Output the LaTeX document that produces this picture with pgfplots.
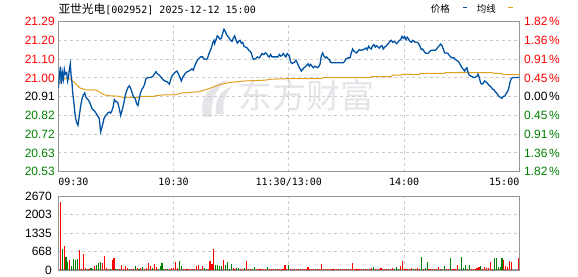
\documentclass[border=0pt]{standalone}
\usepackage{pgfplots}
\pgfplotsset{compat=1.18}
\usepackage{fontspec}
\setmainfont{Liberation Sans}
\newfontfamily\cjk{Noto Sans CJK SC}
\newfontfamily\mono{DejaVu Sans Mono}
\definecolor{pblue}{RGB}{0,82,164}
\definecolor{porange}{RGB}{226,160,32}
\definecolor{vred}{RGB}{255,0,0}
\definecolor{vgreen}{RGB}{0,128,0}
\definecolor{gridc}{RGB}{204,204,204}
\definecolor{framec}{RGB}{150,150,150}
\definecolor{wm}{RGB}{228,228,233}
\begin{document}
\begin{tikzpicture}
\useasboundingbox (0pt,0pt) rectangle (578pt,276pt);
\begin{scope}[x=1pt,y=1pt]
% watermark
\fill[wm] (204,159) .. controls (198,175) and (208,192) .. (228,196) .. controls (214,186) and (210,172) .. (212,159) -- cycle;
\fill[wm] (216,162) .. controls (214,175) and (220,186) .. (232,190) .. controls (224,180) and (222,172) .. (224,162) -- cycle;
\node[anchor=west, inner sep=0pt, text=wm] at (238,181) {\cjk\fontsize{34}{34}\selectfont 东方财富};
% title and legend
\node[anchor=west, inner sep=0pt] at (58.3,267) {\cjk\fontsize{11.7}{12}\selectfont 亚世光电\mono\fontsize{10}{12}\selectfont[002952] 2025-12-12 15:00};
\node[anchor=west, inner sep=0pt] at (430.7,267.5) {\cjk\fontsize{9.5}{10}\selectfont 价格};
\fill[pblue] (462.7,267.5) rectangle (467.3,269.3);
\node[anchor=west, inner sep=0pt] at (476.7,267.5) {\cjk\fontsize{9.5}{10}\selectfont 均线};
\fill[porange] (508.3,267.5) rectangle (512.7,269.3);
\end{scope}

% price axis
\begin{axis}[at={(58.3pt,104.3pt)}, anchor=south west, scale only axis,
  width=461pt, height=150pt,
  xmin=0, xmax=240, ymin=20.5294, ymax=21.2906,
  axis line style={framec, line width=1.2pt},
  major tick length=0pt,
  xtick={0,60,120,180,240},
  xticklabels={\makebox[0pt][l]{09:30},10:30,11:30/13:00,14:00,\makebox[0pt][r]{15:00}},
  xticklabel style={font=\mono\fontsize{10}{10}\selectfont, inner sep=0pt, yshift=-6.3pt},
  ytick={20.5294,20.6246,20.7197,20.8149,20.9100,21.0052,21.1003,21.1955,21.2906},
  yticklabels={\textcolor{vgreen}{20.53},\textcolor{vgreen}{20.63},\textcolor{vgreen}{20.72},\textcolor{vgreen}{20.82},\textcolor{black}{20.91},\textcolor{vred}{21.00},\textcolor{vred}{21.10},\textcolor{vred}{21.20},\textcolor{vred}{21.29}},
  yticklabel style={font=\fontsize{12}{12}\selectfont, inner sep=0pt, xshift=-3.3pt},
  grid=major, grid style={gridc, dash pattern=on 3pt off 3pt, line width=0.9pt},
]
\addplot[porange, line width=1pt] coordinates {
(0,20.974) (1.41,20.990) (2.27,20.999) (5.74,21.002) (7.48,20.990) (9.21,20.974) (10.95,20.957) (11.82,20.952) (14.42,20.945) (18.76,20.945) (20.49,20.940) (22.23,20.929) (23.96,20.919) (26.56,20.915) (31.77,20.912) (33.50,20.907) (42.18,20.907) (43.91,20.912) (49.99,20.912) (50.85,20.915) (54.32,20.919) (60.92,20.920)
(64.40,20.929) (73.07,20.935) (76.54,20.945) (80.01,20.957) (83.48,20.969) (88.69,20.982) (97.36,20.990) (107.77,20.994) (111.24,20.999) (121.3,21.002)
(136.92,21.002) (137.96,21.007) (162.08,21.007) (162.95,21.012) (173.36,21.012) (174.05,21.019) (178.56,21.019) (178.91,21.024)
(187.94,21.022) (188.46,21.029) (201.13,21.029) (201.47,21.032) (226.11,21.032) (226.81,21.029) (230.97,21.027) (231.66,21.022) (240,21.022)
};
\addplot[pblue, line width=1.3pt] coordinates {
(0,20.952) (1.06,21.062) (1.58,20.974) (2.10,21.032) (2.62,20.999) (3.14,21.049) (3.66,21.024) (4.35,21.032) (4.88,20.990) (5.40,21.015) (5.74,21.049) (6.26,21.077) (6.61,21.024) (7.13,20.982) (7.48,20.932) (8.17,20.874) (8.87,20.807) (9.56,20.779) (10.25,20.765) (10.95,20.815) (11.64,20.862) (12.34,20.899) (13.03,20.919) (13.72,20.929) (14.42,20.907) (15.46,20.895) (16.15,20.885) (16.85,20.869) (17.54,20.849) (18.24,20.844) (19.28,20.832) (20.32,20.815) (21.36,20.799) (21.70,20.765) (22.05,20.732) (22.57,20.749) (23.09,20.769) (23.79,20.799) (24.48,20.812) (25.18,20.819) (25.87,20.829) (26.56,20.832) (27.26,20.827) (27.95,20.840) (28.65,20.862) (29.17,20.895) (30.03,20.885) (30.90,20.882) (31.77,20.849) (32.46,20.815) (32.98,20.832) (33.50,20.852) (34.20,20.882) (34.89,20.919) (35.59,20.940) (36.28,20.957) (36.97,20.965) (37.67,20.952) (38.36,20.932) (39.06,20.912) (40.10,20.899) (40.79,20.874) (41.48,20.865) (42.18,20.902) (42.87,20.932) (43.57,20.949) (44.26,20.957) (44.95,20.974) (45.65,21.002) (46.69,21.007) (47.73,21.007) (49.12,21.012) (50.16,21.027) (50.85,21.037) (51.55,21.027) (52.59,21.019) (53.63,21.007) (54.67,20.995) (55.71,20.989) (56.75,20.985) (57.79,20.974) (58.31,20.990) (58.83,21.007)
(59.19,21.015) (60.58,21.032) (61.79,21.040) (62.66,21.024) (63.53,21.002) (64.05,20.990) (64.74,21.007) (65.78,21.024) (66.82,21.035) (67.87,21.040) (68.73,21.045) (69.60,21.052) (70.29,21.045) (70.99,21.065) (71.68,21.082) (72.38,21.095) (73.07,21.102) (74.11,21.112) (75.15,21.112) (75.85,21.102) (76.89,21.099) (77.58,21.102) (78.28,21.124) (78.97,21.141) (79.66,21.157) (80.36,21.182) (81.05,21.196) (81.40,21.179) (82.09,21.199) (82.79,21.219) (83.48,21.212) (84.17,21.202) (84.87,21.207) (85.56,21.232) (86.26,21.252) (86.95,21.241) (87.64,21.224) (88.34,21.216) (89.03,21.207) (89.73,21.196) (90.42,21.191) (91.11,21.207) (91.81,21.219) (92.50,21.199) (93.20,21.182) (93.89,21.191) (94.58,21.196) (95.28,21.182) (95.97,21.186) (96.67,21.166) (97.36,21.162) (98.40,21.157) (99.10,21.146) (99.79,21.141) (100.48,21.132) (101.18,21.107) (101.87,21.099) (102.57,21.102) (103.61,21.112) (104.65,21.107) (105.34,21.116) (106.04,21.129) (107.08,21.124) (107.77,21.132) (108.46,21.129) (109.16,21.116) (109.85,21.112) (110.55,21.124) (111.24,21.112) (112.28,21.112) (113.32,21.112) (114.36,21.112) (115.06,21.124) (115.75,21.116) (116.45,21.119) (117.14,21.129) (117.83,21.119) (118.53,21.112) (119.22,21.129)
(120.26,21.119) (120.96,21.085) (121.65,21.079) (122.35,21.082) (123.04,21.085) (123.73,21.095) (124.43,21.082) (125.12,21.065) (125.82,21.052) (126.51,21.040) (127.20,21.049) (127.90,21.057) (128.59,21.062) (129.29,21.069) (129.98,21.077) (130.67,21.065) (131.37,21.074) (132.06,21.065) (132.76,21.057) (133.45,21.065) (134.14,21.062) (134.84,21.057) (135.53,21.062) (136.23,21.074) (136.92,21.116) (137.61,21.132) (138.31,21.116) (139.00,21.107) (139.70,21.112) (140.39,21.102) (141.08,21.099) (141.78,21.085) (142.47,21.082) (148.37,21.082) (149.07,21.090) (149.76,21.102) (150.80,21.107) (151.84,21.107) (152.54,21.132) (153.23,21.152) (153.92,21.141) (154.62,21.136) (155.31,21.132) (156.01,21.141) (156.70,21.149) (157.39,21.146) (158.09,21.146) (158.78,21.149) (159.48,21.152) (160.17,21.157) (160.86,21.149) (161.56,21.166) (162.25,21.157) (162.95,21.152) (163.64,21.169) (164.33,21.174) (165.03,21.162) (165.72,21.169) (166.42,21.162) (167.11,21.157) (167.80,21.166) (168.50,21.169) (169.19,21.152) (169.89,21.162) (170.58,21.166) (171.27,21.174) (171.97,21.182) (172.66,21.191) (173.36,21.196) (174.05,21.186) (174.74,21.191) (175.44,21.186) (176.13,21.179) (176.83,21.186) (177.52,21.196) (178.21,21.199)
(178.92,21.216) (179.61,21.207) (180.31,21.216) (181.00,21.199) (181.70,21.212) (182.39,21.202) (183.08,21.191) (183.78,21.186) (184.47,21.196) (185.17,21.191) (185.86,21.186) (186.90,21.186) (187.60,21.179) (188.29,21.166) (188.98,21.149) (189.68,21.152) (190.37,21.141) (191.07,21.132) (192.11,21.129) (192.80,21.132) (193.49,21.141) (194.19,21.146) (195.23,21.146) (196.27,21.146) (196.96,21.152) (197.66,21.162) (198.35,21.169) (199.05,21.177) (199.74,21.169) (200.43,21.152) (201.13,21.132) (202.17,21.132) (202.86,21.129) (203.56,21.119) (204.25,21.112) (204.95,21.107) (205.99,21.107) (206.68,21.099) (207.37,21.095) (208.07,21.090) (208.76,21.082) (209.46,21.069) (210.15,21.057) (210.84,21.049) (211.54,21.040) (212.23,21.052) (212.75,21.057) (213.27,21.035) (213.97,21.019) (214.66,21.015) (215.36,21.012) (216.05,21.007) (216.74,21.007) (217.44,21.012) (218.13,21.015) (218.48,21.024) (219.17,21.007) (219.87,20.979) (220.56,20.974) (221.25,20.979) (221.95,20.990) (222.64,20.985) (223.34,20.979) (224.03,20.969) (224.72,20.965) (225.42,20.957) (226.11,20.949) (226.81,20.945) (227.50,20.935) (228.19,20.929) (228.89,20.919) (229.58,20.910) (230.28,20.907) (230.97,20.902) (231.66,20.912) (232.36,20.912) (233.05,20.924) (233.74,20.935) (234.44,20.949) (235.13,20.982) (235.83,21.002) (236.52,21.007) (240,21.007)
};
\end{axis}

% percentage labels on the right
\begin{axis}[at={(58.3pt,104.3pt)}, anchor=south west, scale only axis,
  width=461pt, height=150pt,
  xmin=0, xmax=240, ymin=-1.82, ymax=1.82,
  axis line style={draw=none}, major tick length=0pt,
  xtick=\empty,
  ytick={-1.82,-1.365,-0.91,-0.455,0,0.455,0.91,1.365,1.82},
  yticklabel pos=right,
  yticklabels={\textcolor{vgreen}{1.82\hspace{1.6pt}\%},\textcolor{vgreen}{1.36\hspace{1.6pt}\%},\textcolor{vgreen}{0.91\hspace{1.6pt}\%},\textcolor{vgreen}{0.45\hspace{1.6pt}\%},\textcolor{black}{0.00\hspace{1.6pt}\%},\textcolor{vred}{0.45\hspace{1.6pt}\%},\textcolor{vred}{0.91\hspace{1.6pt}\%},\textcolor{vred}{1.36\hspace{1.6pt}\%},\textcolor{vred}{1.82\hspace{1.6pt}\%}},
  yticklabel style={font=\fontsize{12}{12}\selectfont, inner sep=0pt, anchor=west, xshift=4.7pt},
]
\end{axis}

% volume axis
\begin{axis}[at={(58.3pt,6pt)}, anchor=south west, scale only axis,
  width=461pt, height=73.7pt,
  xmin=0, xmax=240, ymin=0, ymax=2670,
  axis line style={framec, line width=1.2pt},
  major tick length=0pt,
  xtick={60,120,180}, xticklabels={},
  ytick={0,668,1335,2003,2670},
  yticklabels={0,668,1335,2003,2670},
  yticklabel style={font=\fontsize{12}{12}\selectfont, inner sep=0pt, xshift=-6.3pt},
  grid=major, grid style={gridc, dash pattern=on 3pt off 3pt, line width=0.9pt},
]
\addplot[ycomb, vred, line width=1.1pt, mark=none] coordinates {
(1,2464) (3,870) (6,362) (11,725) (12,36) (13,580) (14,72) (16,36) (19,145) (23,266) (24,507) (25,72) (26,36) (28,362) (29,435) (32,36) (33,181) (34,36) (35,145) (36,72) (38,36) (39,36) (41,72) (43,72) (45,36) (46,72) (47,254) (48,145) (50,217) (51,109) (56,36) (58,36) (59,72) (60,72) (61,290) (62,72)
(65,36) (66,36) (67,36) (68,36) (69,36) (70,36) (71,36) (72,145) (73,181) (74,36) (75,145) (78,36) (79,326) (80,217) (81,761) (86,362) (91,72) (92,36) (95,36) (96,36) (98,326) (99,36) (100,36)
(103,36) (104,36) (105,36) (106,36) (107,36) (108,36) (110,36) (111,36) (112,36) (113,36) (114,36) (115,36) (116,36) (117,36) (118,181) (119,36)
(121,36) (122,36) (123,36) (124,36) (125,36) (126,36) (127,36) (128,36) (129,36) (130,109) (131,36) (132,36) (133,36) (134,36) (135,36) (136,36) (137,217)
(138,36) (139,36) (140,36) (141,36) (142,36) (143,36) (144,36) (145,36) (146,36) (147,36) (148,36) (149,36) (150,36) (151,36) (152,36) (153,254)
(154,36) (155,36) (156,36) (157,36) (158,36) (159,36) (160,36) (161,36) (162,36) (163,72) (165,36) (166,36) (167,36) (168,72) (169,36) (170,36) (171,36) (172,36) (173,36) (174,72)
(178,145) (179,326) (180,36) (181,36) (182,36) (183,36) (184,72) (186,36) (187,72) (188,36) (190,36) (193,36) (194,36) (195,36) (196,36) (197,36) (198,109) (199,36) (202,36) (203,36) (205,36) (206,36) (207,36) (208,181)
(213,36) (215,36) (216,36) (217,36) (218,72) (219,109) (221,36) (222,109) (223,72) (224,72) (225,290) (226,36) (232,362) (233,145) (234,109) (235,326) (236,290) (239.5,435)
};
\addplot[ycomb, vgreen, line width=1.1pt, mark=none] coordinates {
(2,761) (4,471) (5,290) (7,145) (8,399) (9,362) (10,399) (15,36) (17,72) (18,36) (20,181) (21,266) (22,302) (27,36) (30,36) (31,36) (37,36) (40,145) (42,36) (44,109) (49,72) (52,36) (53,145) (54,254) (55,36) (57,36) (63,326) (64,145)
(76,72) (77,36) (82,181) (83,181) (84,145) (85,145) (87,181) (88,290) (89,36) (90,217) (93,72) (94,72) (97,72) (101,36) (102,109) (109,109) (120,181) (164,109) (175,36) (176,109) (177,36) (185,36)
(189,471) (191,72) (192,290) (200,36) (201,145) (204,435) (209,36) (210,471) (211,72) (212,181) (214,181) (220,145) (227,435) (228,435) (229,109) (230,109) (231,435)
};
\end{axis}
\end{tikzpicture}
\end{document}
